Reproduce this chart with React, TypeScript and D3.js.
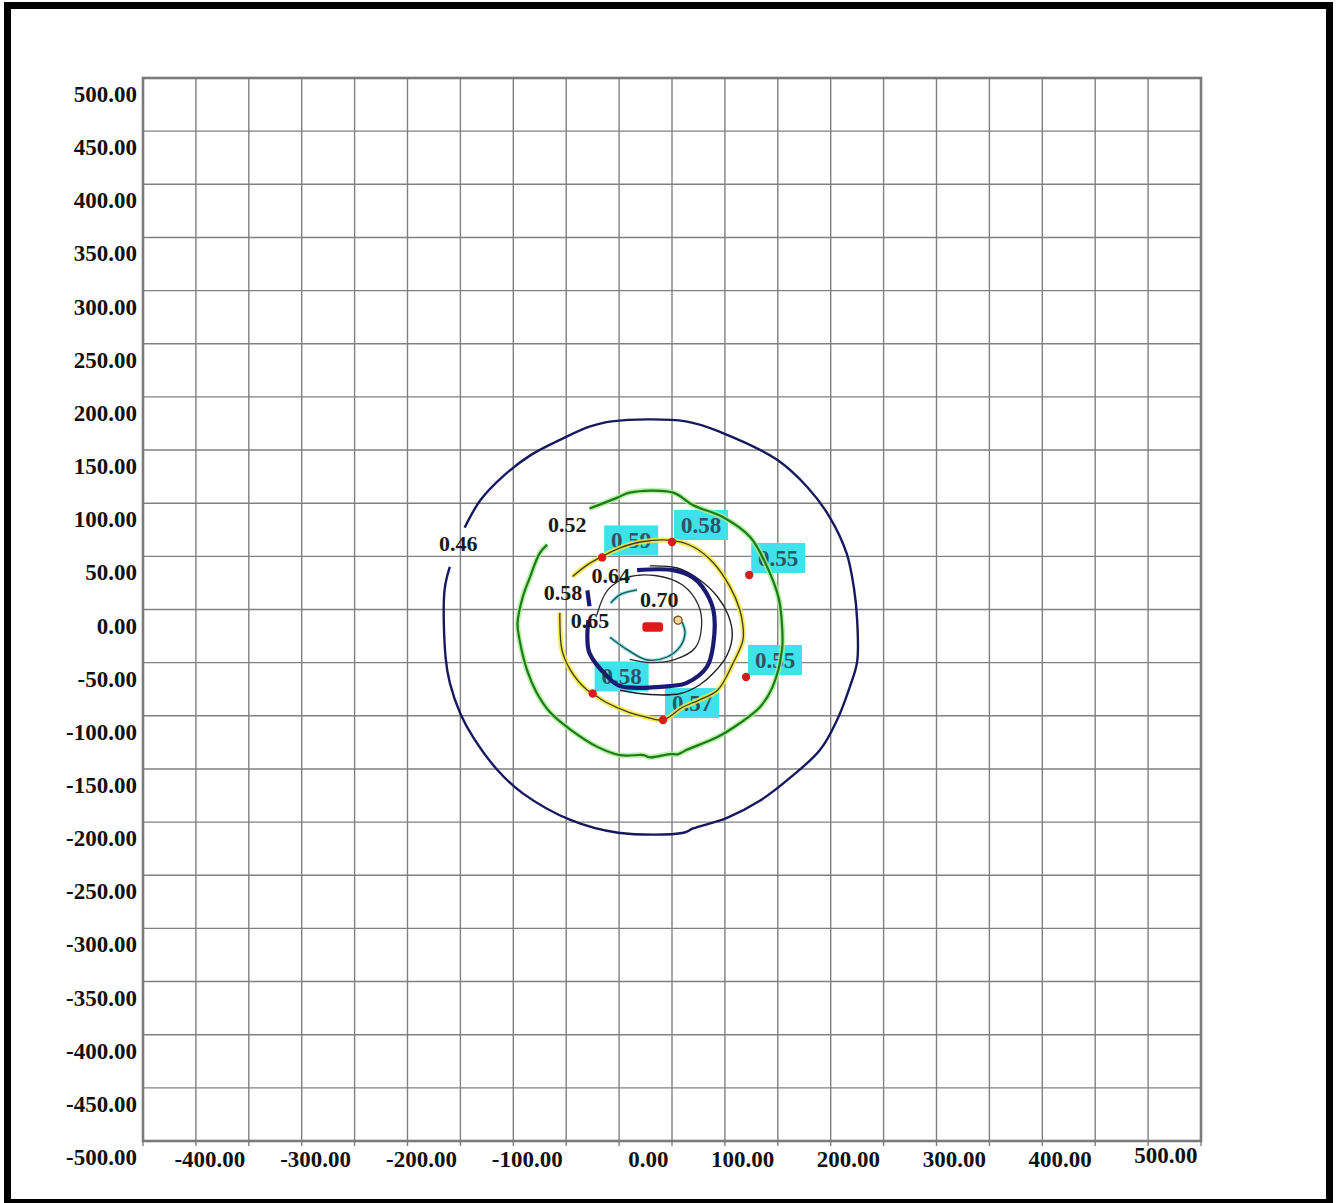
import React from "react";
import * as d3 from "d3";

// ---------- data (values in chart units) ----------
const GRID_VALUES = d3.range(-500, 501, 50);
const X_TICK_VALUES = [-400, -300, -200, -100, 0, 100, 200, 300, 400, 500];
const Y_TICK_VALUES = d3.range(-500, 501, 50);

const contour046: [number, number][] = [
  [-196, 77], [-181, 103], [-160, 125], [-134, 145], [-103, 161], [-78, 172], [-57, 177],
  [13, 177], [48, 166], [99, 141], [128, 115], [149, 87], [165, 53], [172, 20],
  [175, -10], [175, -49], [168, -73], [156, -104], [140, -132], [112, -158], [83, -180], [52, -196],
  [20, -206], [11, -210], [-51, -210], [-96, -198], [-141, -173], [-165, -151], [-188, -120],
  [-200, -98], [-210, -69], [-214, -45], [-215, 18], [-210, 40],
];

const contour052: [number, number][] = [
  [-78, 95], [-52, 105], [-40, 110], [1, 110], [20, 98], [48, 87], [74, 68], [90, 40],
  [101, 10], [104, -15], [104, -38], [95, -73], [83, -92], [64, -107], [43, -120], [14, -132],
  [6, -136], [-2, -136], [-21, -139], [-27, -137], [-49, -137], [-71, -129], [-96, -113],
  [-115, -97], [-128, -78], [-137, -57], [-144, -29], [-146, -13], [-141, 12], [-134, 31],
  [-125, 53], [-118, 61],
];

const contour058: [number, number][] = [
  [-94, 31], [-80, 42], [-66, 50], [-49, 58], [-30, 63.5], [0, 65], [20, 59], [39, 44],
  [55, 21], [64, 0], [67, -15], [67, -29], [58, -50], [43, -76], [26, -85], [10, -92],
  [-8.5, -104], [-25.5, -101], [-40, -97], [-61, -88], [-75, -79], [-80, -76], [-96, -57],
  [-104, -38], [-106, -10], [-106, -3],
];

const contourThinOuter: [number, number][] = [
  [-21, 41], [5, 39], [26, 28], [43, 12], [53, -5], [57, -24], [52, -43], [39, -60],
  [26, -71], [8, -79], [-21, -80], [-49, -76],
];

const contour064: [number, number][] = [
  [-33, 37], [1, 37], [20, 30], [29, 21], [39, 0], [39, -33], [33, -54], [14, -69],
  [-2, -72], [-49, -72], [-61, -63], [-78, -41], [-80, -26], [-79, -10],
];
const contour064Piece: [number, number][] = [[-80, 18], [-78, 3]];

const contourThinInner: [number, number][] = [
  [-71, -5], [-61, 18], [-43, 30], [-16, 32], [10, 23], [25, 4], [28, -15], [22, -36],
  [3, -47], [-21, -50], [-40, -47],
];

const contour070Top: [number, number][] = [[-58, 6], [-49, 14], [-33, 18.5]];
const contour070Bottom: [number, number][] = [
  [-58.6, -26], [-42, -38], [-23.6, -47.5], [-4.7, -44.7], [7.6, -35], [12.3, -22], [9.5, -11.8],
];

const contourLabels = ["0.46", "0.52", "0.58", "0.64", "0.65", "0.70"];
const contourLabelAnchors: [number, number][] = [
  [-202, 55], [-99, 73], [-103, 9], [-58, 25], [-77.5, -17], [-12, 2],
];

const sampleValues = ["0.59", "0.58", "0.55", "0.55", "0.58", "0.57"];
const samplePoints: [number, number][] = [
  [-66, 49], [0, 63.5], [73, 32.5], [70, -63.5], [-75, -79], [-8.5, -104],
];

const sourceRect = { x0: -28, x1: -8.5, y0: -21, y1: -12 };
const markerPoint: [number, number] = [5.7, -10];

// ---------- layout ----------
const W = 1336;
const H = 1203;
const LEFT = 143;
const RIGHT = 1201;
const TOP = 78;
const BOTTOM = 1141;

const FONT = "'Liberation Serif', 'Times New Roman', serif";

export default function App() {
  const x = d3.scaleLinear().domain([-500, 500]).range([LEFT, RIGHT]);
  const y = d3.scaleLinear().domain([-500, 500]).range([BOTTOM, TOP]);
  const line = d3
    .line<[number, number]>()
    .x((d) => x(d[0]))
    .y((d) => y(d[1]))
    .curve(d3.curveCatmullRom.alpha(0.5));

  const navy = "#17195f";
  const boxW = 54;
  const boxH = 30;

  return (
    <svg
      width={W}
      height={H}
      style={{ position: "absolute", left: 0, top: 0, background: "#fff" }}
      fontFamily={FONT}
    >
      <rect x={0} y={0} width={W} height={H} fill="#fff" />
      {/* outer frame */}
      <rect x={7.5} y={5.5} width={1322} height={1197} fill="none" stroke="#000" strokeWidth={7} />

      {/* grid */}
      {GRID_VALUES.map((v) => (
        <line key={"gx" + v} x1={x(v)} x2={x(v)} y1={TOP} y2={BOTTOM + 5} stroke="#808080" strokeWidth={1.4} />
      ))}
      {GRID_VALUES.map((v) => (
        <line key={"gy" + v} x1={LEFT} x2={RIGHT} y1={y(v)} y2={y(v)} stroke="#808080" strokeWidth={1.4} />
      ))}
      <rect x={LEFT} y={TOP} width={RIGHT - LEFT} height={BOTTOM - TOP} fill="none" stroke="#7a7a7a" strokeWidth={2.6} />

      {/* axis labels */}
      {Y_TICK_VALUES.map((v) => (
        <text key={"yl" + v} x={137} y={y(v) + 24} textAnchor="end" fontSize={23} fontWeight="bold" fill="#111">
          {v.toFixed(2)}
        </text>
      ))}
      {X_TICK_VALUES.map((v) => (
        <text
          key={"xl" + v}
          x={x(v) - 3.5}
          y={v === 500 ? 1163 : 1167}
          textAnchor="end"
          fontSize={23}
          fontWeight="bold"
          fill="#111"
        >
          {v.toFixed(2)}
        </text>
      ))}

      {/* sample boxes */}
      {samplePoints.map((p, i) => (
        <g key={"sb" + i}>
          <rect x={x(p[0]) + 2} y={y(p[1]) - 32} width={boxW} height={boxH} fill="#3fe2ea" />
          <text
            x={x(p[0]) + 2 + boxW / 2}
            y={y(p[1]) - 9}
            textAnchor="middle"
            fontSize={23}
            fontWeight="bold"
            fill="#2a5566"
          >
            {sampleValues[i]}
          </text>
        </g>
      ))}

      {/* contours */}
      <path d={line(contour046) || ""} fill="none" stroke={navy} strokeWidth={2.4} strokeLinejoin="round" />

      <path d={line(contour052) || ""} fill="none" stroke="#a8ee90" strokeWidth={5.5} opacity={0.8} strokeLinejoin="round" />
      <path d={line(contour052) || ""} fill="none" stroke="#1c7a1c" strokeWidth={2.2} strokeLinejoin="round" />

      <path d={line(contour058) || ""} fill="none" stroke="#f2e640" strokeWidth={5} opacity={0.85} strokeLinejoin="round" />
      <path d={line(contour058) || ""} fill="none" stroke="#3d3d1c" strokeWidth={1.3} strokeLinejoin="round" />

      <path d={line(contourThinOuter) || ""} fill="none" stroke="#1e1e1e" strokeWidth={1.4} strokeLinejoin="round" />

      <path d={line(contour064) || ""} fill="none" stroke="#1a1a72" strokeWidth={4.2} strokeLinejoin="round" />
      <path d={line(contour064Piece) || ""} fill="none" stroke="#1a1a72" strokeWidth={4.2} />

      <path d={line(contourThinInner) || ""} fill="none" stroke="#2a2a2a" strokeWidth={1.3} strokeLinejoin="round" />

      <path d={line(contour070Top) || ""} fill="none" stroke="#70d8d8" strokeWidth={3.5} opacity={0.8} />
      <path d={line(contour070Top) || ""} fill="none" stroke="#1d5555" strokeWidth={1.3} />
      <path d={line(contour070Bottom) || ""} fill="none" stroke="#70d8d8" strokeWidth={3.5} opacity={0.8} strokeLinejoin="round" />
      <path d={line(contour070Bottom) || ""} fill="none" stroke="#1d5555" strokeWidth={1.3} strokeLinejoin="round" />

      {/* contour labels */}
      {contourLabels.map((t, i) => (
        <text
          key={"cl" + i}
          x={x(contourLabelAnchors[i][0])}
          y={y(contourLabelAnchors[i][1])}
          textAnchor="middle"
          fontSize={22}
          fontWeight="bold"
          fill="#1a1a1a"
        >
          {t}
        </text>
      ))}

      {/* source and markers */}
      <rect
        x={x(sourceRect.x0)}
        y={y(sourceRect.y1)}
        width={x(sourceRect.x1) - x(sourceRect.x0)}
        height={y(sourceRect.y0) - y(sourceRect.y1)}
        rx={3}
        fill="#e01818"
      />
      <circle cx={x(markerPoint[0])} cy={y(markerPoint[1])} r={4} fill="#f0d8a0" stroke="#8a5a20" strokeWidth={1.5} />
      {samplePoints.map((p, i) => (
        <circle key={"sp" + i} cx={x(p[0])} cy={y(p[1])} r={4.2} fill="#d41e1e" />
      ))}
    </svg>
  );
}
